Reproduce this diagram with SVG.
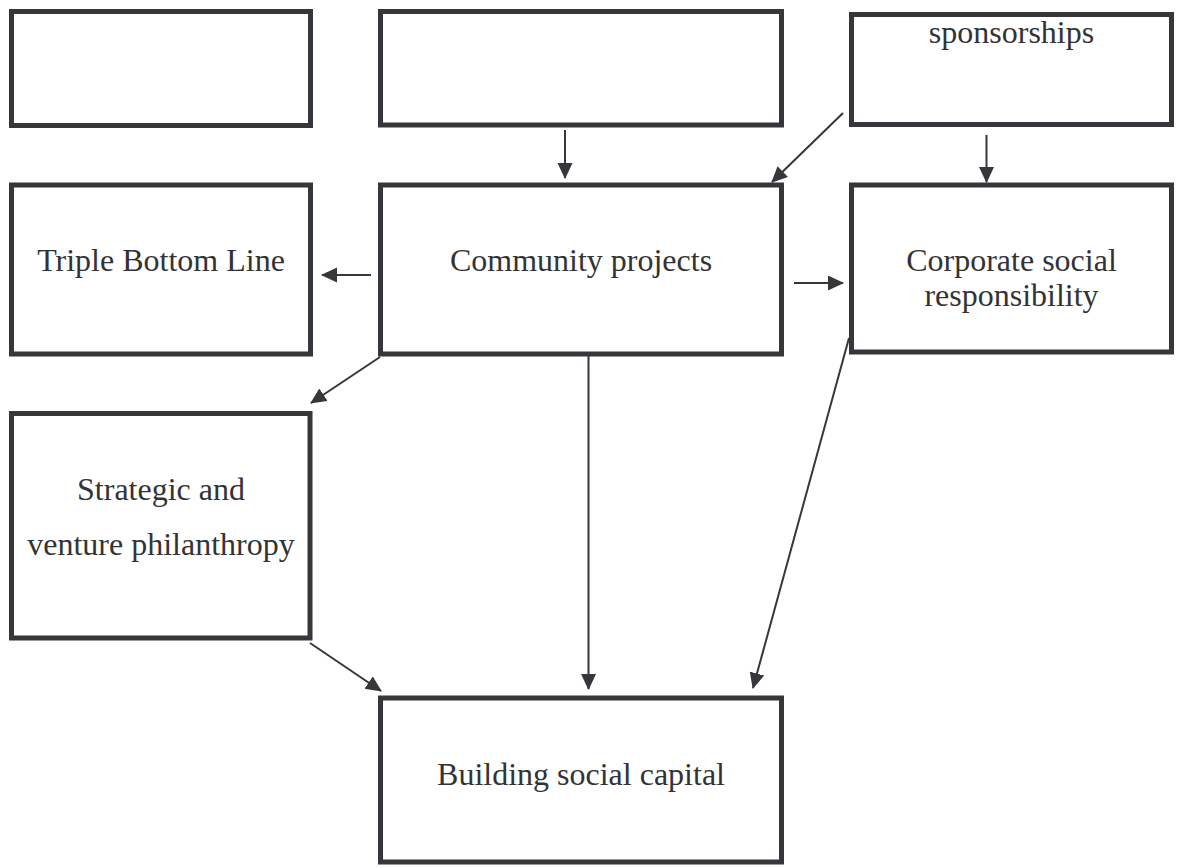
<svg xmlns="http://www.w3.org/2000/svg" width="1180" height="868" viewBox="0 0 1180 868">
<style>
.box{fill:#fff;stroke:#36363b;stroke-width:5}
.lbl{font-family:"Liberation Serif","Times New Roman",serif;font-size:32px;fill:#333336;text-anchor:middle}
.edge{stroke:#36363b;stroke-width:2;fill:none;marker-end:url(#ah)}
</style>
<defs>
<marker id="ah" markerUnits="userSpaceOnUse" markerWidth="16" markerHeight="16" refX="15" refY="7.5" orient="auto">
<path d="M0,0 L16,7.5 L0,15 z" fill="#36363b"/>
</marker>
</defs>
<rect width="1180" height="868" fill="#fff"/>
<g id="n_blank1"><rect class="box" x="11.5" y="11.5" width="299" height="114"/></g>
<g id="n_blank2"><rect class="box" x="380.5" y="11.5" width="401" height="113.5"/></g>
<g id="n_sponsorships"><rect class="box" x="851.5" y="14.5" width="320" height="110"/><text class="lbl" x="1011.5" y="43">sponsorships</text></g>
<g id="n_tbl"><rect class="box" x="11.5" y="185" width="299" height="169"/><text class="lbl" x="161" y="271">Triple Bottom Line</text></g>
<g id="n_community"><rect class="box" x="380.5" y="185" width="401" height="169"/><text class="lbl" x="581" y="271">Community projects</text></g>
<g id="n_csr"><rect class="box" x="851.5" y="185" width="320" height="167"/><text class="lbl" x="1011.5" y="271">Corporate social</text><text class="lbl" x="1011.5" y="306">responsibility</text></g>
<g id="n_strategic"><rect class="box" x="11.5" y="413.5" width="298.5" height="224.5"/><text class="lbl" x="161" y="500">Strategic and</text><text class="lbl" x="161" y="555">venture philanthropy</text></g>
<g id="n_building"><rect class="box" x="380.5" y="698" width="401" height="164"/><text class="lbl" x="581" y="785">Building social capital</text></g>
<g id="connectors">
<line class="edge" x1="565" y1="130" x2="565" y2="178"/>
<line class="edge" x1="843" y1="113" x2="772" y2="182"/>
<line class="edge" x1="986.5" y1="135" x2="986.5" y2="182"/>
<line class="edge" x1="371" y1="275" x2="322" y2="275"/>
<line class="edge" x1="794" y1="283" x2="843" y2="283"/>
<line class="edge" x1="380" y1="357" x2="311" y2="403"/>
<line class="edge" x1="310" y1="643" x2="381" y2="691"/>
<line class="edge" x1="588.5" y1="356" x2="588.5" y2="689"/>
<line class="edge" x1="849" y1="338" x2="753" y2="688"/>
</g>
</svg>
